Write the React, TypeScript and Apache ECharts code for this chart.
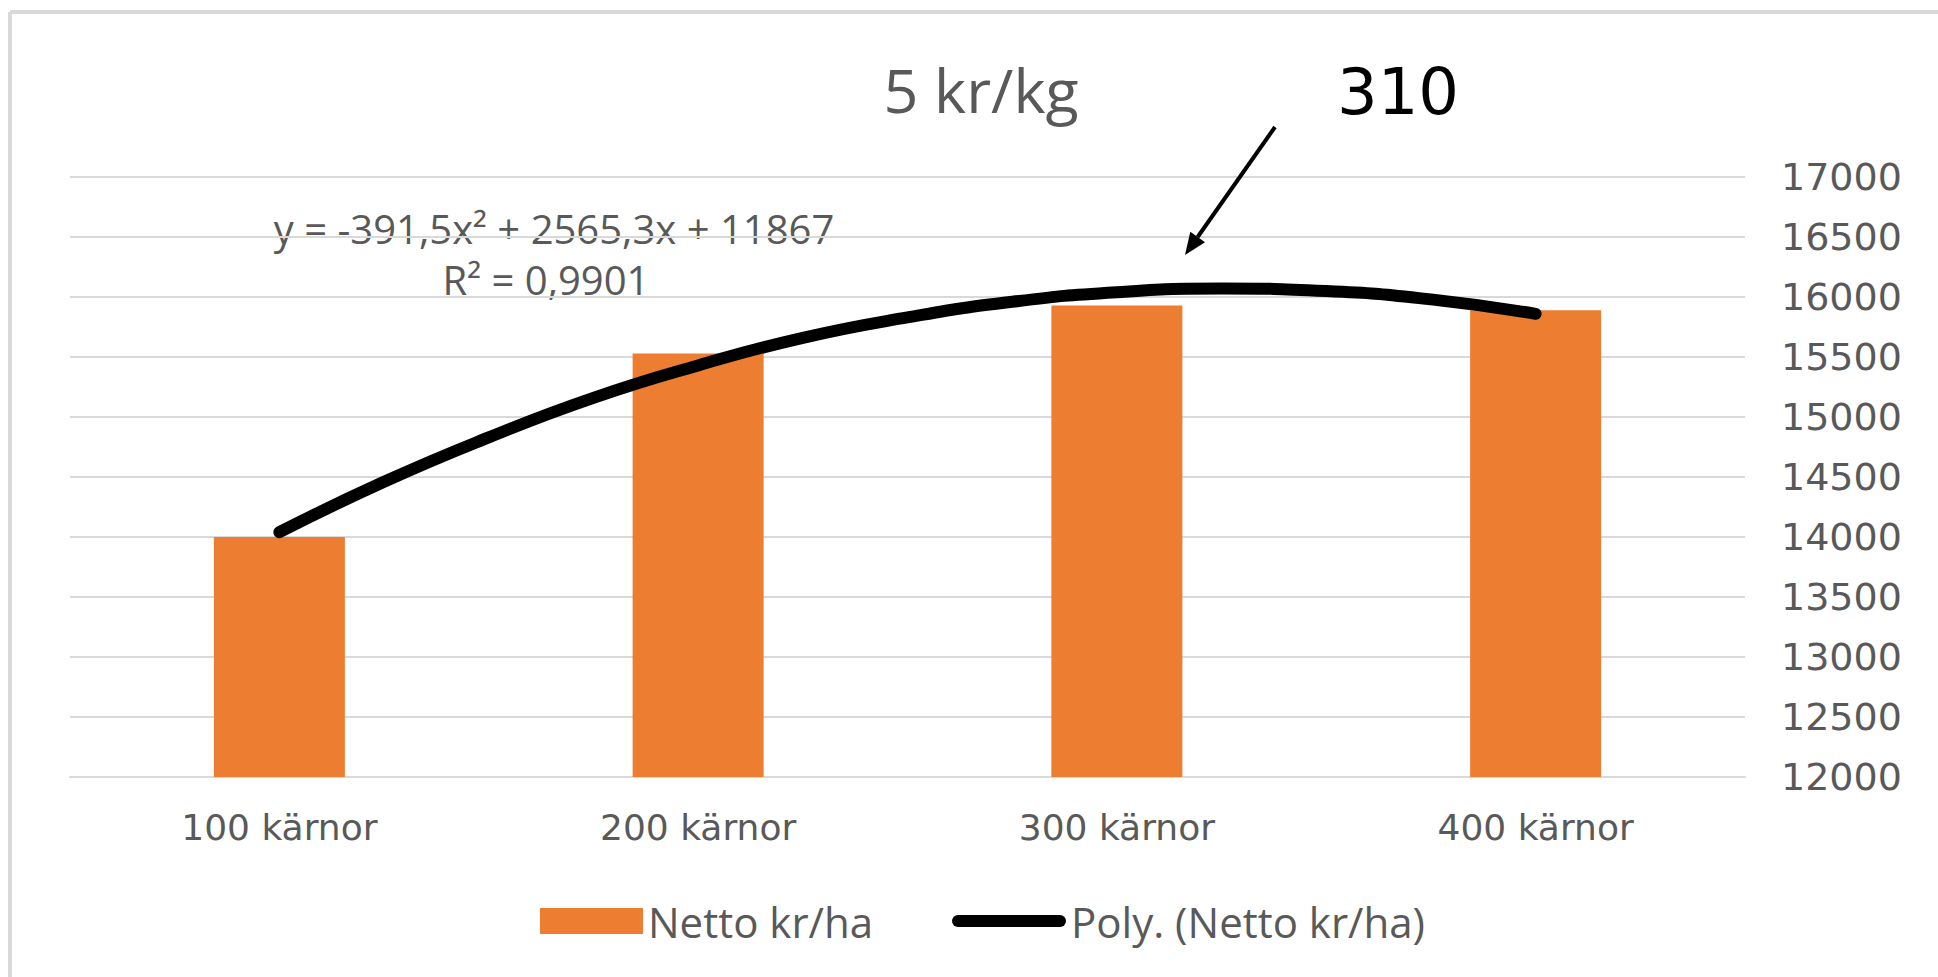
import React, { useEffect, useRef } from "react";
import * as echarts from "echarts";

const categories = ["100 kärnor", "200 kärnor", "300 kärnor", "400 kärnor"];
const nettoValues = [14000, 15530, 15930, 15890];
// trend curve at category positions (1..4) and quarter-steps
const trendX = [1, 1.25, 1.5, 1.75, 2, 2.25, 2.5, 2.75, 3, 3.25, 3.5, 3.75, 4];
const trendY = [14040, 14460, 14830, 15160, 15430, 15660, 15830, 15960, 16040, 16070, 16050, 15980, 15860];
const yTicks = { min: 12000, max: 17000, interval: 500 };

const titleText = "5 kr/kg";
const annotationText = "310";
const equationText = "y = -391,5x² + 2565,3x + 11867";
const r2Text = "R² = 0,9901";
const barName = "Netto kr/ha";
const trendName = "Poly. (Netto kr/ha)";

export default function App() {
  const ref = useRef<HTMLDivElement>(null);

  useEffect(() => {
    if (!ref.current) return;
    const chart = echarts.init(ref.current, null, { renderer: "svg" });
    const gray = "#595959";
    const gridColor = "#d9d9d9";

    // arrow geometry
    const start = [1275, 127];
    const tip = [1185, 255];
    const dx = tip[0] - start[0];
    const dy = tip[1] - start[1];
    const len = Math.sqrt(dx * dx + dy * dy);
    const ux = dx / len;
    const uy = dy / len;
    const headLen = 22;
    const headHalf = 9;
    const bx = tip[0] - ux * headLen;
    const by = tip[1] - uy * headLen;
    const px = -uy;
    const py = ux;

    const legendText = {
      color: gray,
      fontFamily: "Open Sans",
      fontSize: 42,
      lineHeight: 46,
    };

    chart.setOption({
      animation: false,
      backgroundColor: "#ffffff",
      grid: { left: 70, right: 193, top: 177, bottom: 200, containLabel: false },
      xAxis: [
        {
          type: "category",
          data: categories,
          axisLine: { show: true, lineStyle: { color: gridColor, width: 2 } },
          axisTick: { show: false },
          axisLabel: {
            color: gray,
            fontFamily: "DejaVu Sans",
            fontSize: 36,
            margin: 32,
          },
        },
        {
          type: "value",
          min: 0.5,
          max: 4.5,
          show: false,
        },
      ],
      yAxis: {
        type: "value",
        position: "right",
        min: yTicks.min,
        max: yTicks.max,
        interval: yTicks.interval,
        axisLine: { show: false },
        axisTick: { show: false },
        splitLine: { show: true, lineStyle: { color: gridColor, width: 2 } },
        axisLabel: {
          color: gray,
          fontFamily: "DejaVu Sans",
          fontSize: 38,
          margin: 36,
          formatter: (v: number) => String(v),
        },
      },
      legend: [
        {
          left: 540,
          top: 898,
          padding: 0,
          itemWidth: 103,
          itemHeight: 26,
          textStyle: legendText,
          data: [{ name: barName, icon: "rect" }],
        },
        {
          left: 952,
          top: 898,
          padding: 0,
          itemWidth: 114,
          itemHeight: 12,
          textStyle: legendText,
          data: [
            {
              name: trendName,
              icon: "path://M6,0 L108,0 A6,6 0 0 1 108,12 L6,12 A6,6 0 0 1 6,0 Z",
            },
          ],
        },
      ],
      series: [
        {
          name: barName,
          type: "bar",
          data: nettoValues,
          barWidth: 131,
          itemStyle: { color: "#ED7D31" },
          xAxisIndex: 0,
          yAxisIndex: 0,
          z: 2,
        },
        {
          name: trendName,
          type: "line",
          xAxisIndex: 1,
          yAxisIndex: 0,
          data: trendX.map((x, i) => [x, trendY[i]]),
          smooth: true,
          symbol: "none",
          lineStyle: { color: "#000000", width: 12, cap: "round", join: "round" },
          itemStyle: { color: "#000000" },
          z: 3,
        },
      ],
      graphic: [
        {
          type: "line",
          shape: { x1: 10, y1: 12, x2: 1938, y2: 12 },
          style: { stroke: gridColor, lineWidth: 4 },
        },
        {
          type: "line",
          shape: { x1: 10, y1: 12, x2: 10, y2: 977 },
          style: { stroke: gridColor, lineWidth: 4 },
        },
        {
          type: "text",
          x: 981,
          y: 89,
          style: {
            text: titleText,
            fill: gray,
            font: "61px 'Open Sans'",
            textAlign: "center",
            textVerticalAlign: "middle",
          },
        },
        {
          type: "text",
          x: 1398,
          y: 92,
          style: {
            text: annotationText,
            fill: "#000000",
            font: "64px 'DejaVu Sans'",
            textAlign: "center",
            textVerticalAlign: "middle",
          },
        },
        {
          type: "text",
          x: 554,
          y: 228,
          style: {
            text: equationText,
            fill: gray,
            font: "40px 'Open Sans'",
            textAlign: "center",
            textVerticalAlign: "middle",
          },
        },
        {
          type: "text",
          x: 546,
          y: 279,
          style: {
            text: r2Text,
            fill: gray,
            font: "40px 'Open Sans'",
            textAlign: "center",
            textVerticalAlign: "middle",
          },
        },
        {
          type: "line",
          shape: { x1: start[0], y1: start[1], x2: bx, y2: by },
          style: { stroke: "#000000", lineWidth: 4 },
          z: 10,
        },
        {
          type: "polygon",
          shape: {
            points: [
              [tip[0], tip[1]],
              [bx + px * headHalf, by + py * headHalf],
              [bx - px * headHalf, by - py * headHalf],
            ],
          },
          style: { fill: "#000000" },
          z: 10,
        },
      ],
    });

    return () => chart.dispose();
  }, []);

  return (
    <div
      ref={ref}
      style={{ position: "fixed", left: 0, top: 0, width: 1938, height: 977 }}
    />
  );
}
